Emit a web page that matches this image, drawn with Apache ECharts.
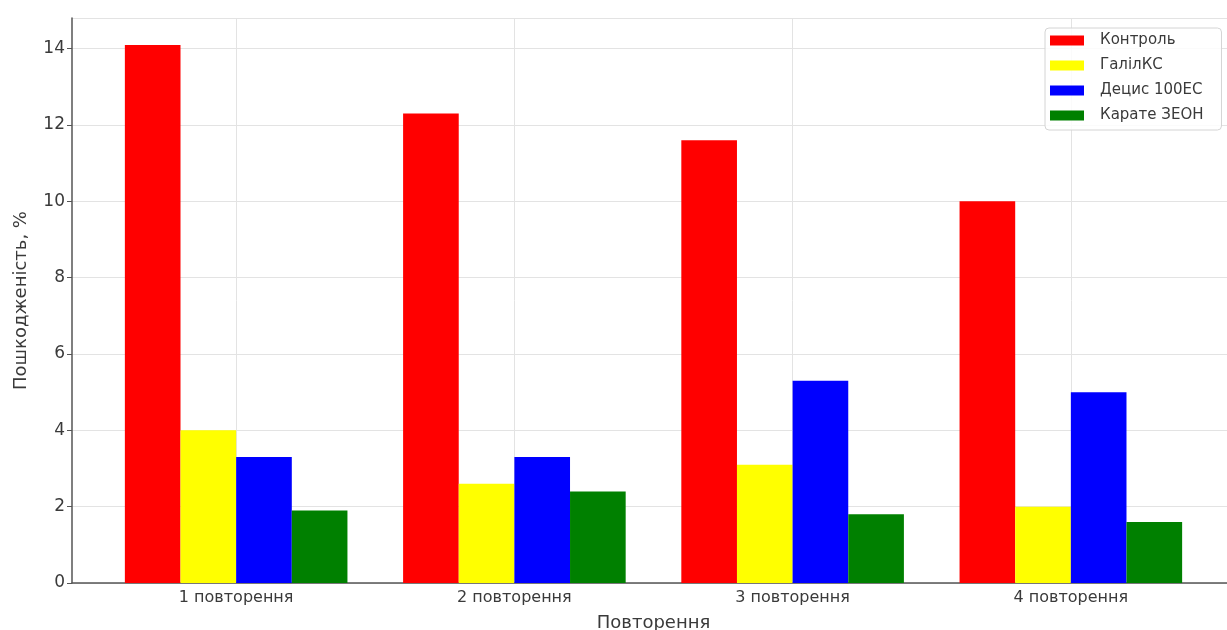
<!DOCTYPE html>
<html>
<head>
<meta charset="utf-8">
<script src="https://cdn.jsdelivr.net/npm/echarts@6/dist/echarts.min.js"></script>
<style>html,body{margin:0;padding:0;background:#fff}#c{width:1227px;height:630px}</style>
</head>
<body>
<div id="c"></div>
<script>
const categories = ['1 повторення', '2 повторення', '3 повторення', '4 повторення'];
const seriesNames = ['Контроль', 'ГалілКС', 'Децис 100ЕС', 'Карате ЗЕОН'];
const control = [14.1, 12.3, 11.6, 10.0];
const galil = [4.0, 2.6, 3.1, 2.0];
const decis = [3.3, 3.3, 5.3, 5.0];
const karate = [1.9, 2.4, 1.8, 1.6];
const yTicks = [0, 2, 4, 6, 8, 10, 12, 14];
const colors = ['#ff0000', '#ffff00', '#0000ff', '#008000'];

const values = [control, galil, decis, karate];
const catIdx = categories.map((c, i) => i);
const font = 'DejaVu Sans';

const chart = echarts.init(document.getElementById('c'));
chart.setOption({
  animation: false,
  textStyle: {fontFamily: font},
  grid: {left: 72, right: -8, top: 18, bottom: 47, containLabel: false, outerBoundsMode: 'none'},
  legend: {
    orient: 'vertical', left: 1045, top: 28,
    icon: 'rect',
    itemWidth: 34, itemHeight: 10, itemGap: 10,
    padding: [5, 18, 7, 5],
    borderColor: '#d4d4d4', borderWidth: 1, borderRadius: 4,
    backgroundColor: 'rgba(255,255,255,0.85)',
    textStyle: {fontFamily: font, fontSize: 15, color: '#3a3a3a', padding: [0, 0, 0, 11]},
    data: seriesNames
  },
  xAxis: {
    type: 'value', min: -0.59, max: 3.59,
    name: 'Повторення', nameLocation: 'middle', nameGap: 31,
    nameTextStyle: {fontFamily: font, fontSize: 18, color: '#3a3a3a'},
    axisLine: {show: true, onZero: false, lineStyle: {color: '#555', width: 1.5}},
    axisTick: {show: false, customValues: catIdx},
    axisLabel: {
      fontFamily: font, fontSize: 16, color: '#3a3a3a', margin: 7,
      customValues: catIdx,
      formatter: v => categories[Math.round(v)] || ''
    },
    splitLine: {show: true, lineStyle: {color: '#e3e3e3', width: 1}}
  },
  yAxis: {
    type: 'value', min: 0, max: 14.805, interval: 2,
    name: 'Пошкодженість, %', nameLocation: 'middle', nameGap: 42, nameRotate: 90,
    nameTextStyle: {fontFamily: font, fontSize: 18, color: '#3a3a3a'},
    axisLine: {show: true, onZero: false, lineStyle: {color: '#555', width: 1.5}},
    axisTick: {show: true, length: 5, lineStyle: {color: '#555'}},
    axisLabel: {fontFamily: font, fontSize: 17, color: '#3a3a3a', margin: 7,
      formatter: v => yTicks.includes(v) ? String(v) : '', showMaxLabel: false},
    splitLine: {show: true, lineStyle: {color: '#e3e3e3', width: 1}}
  },
  series: seriesNames.map((name, s) => ({
    name, type: 'bar',
    barGap: '0%', barCategoryGap: '20%',
    itemStyle: {color: colors[s]},
    data: values[s].map((v, i) => [i, v])
  }))
});
</script>
</body>
</html>
